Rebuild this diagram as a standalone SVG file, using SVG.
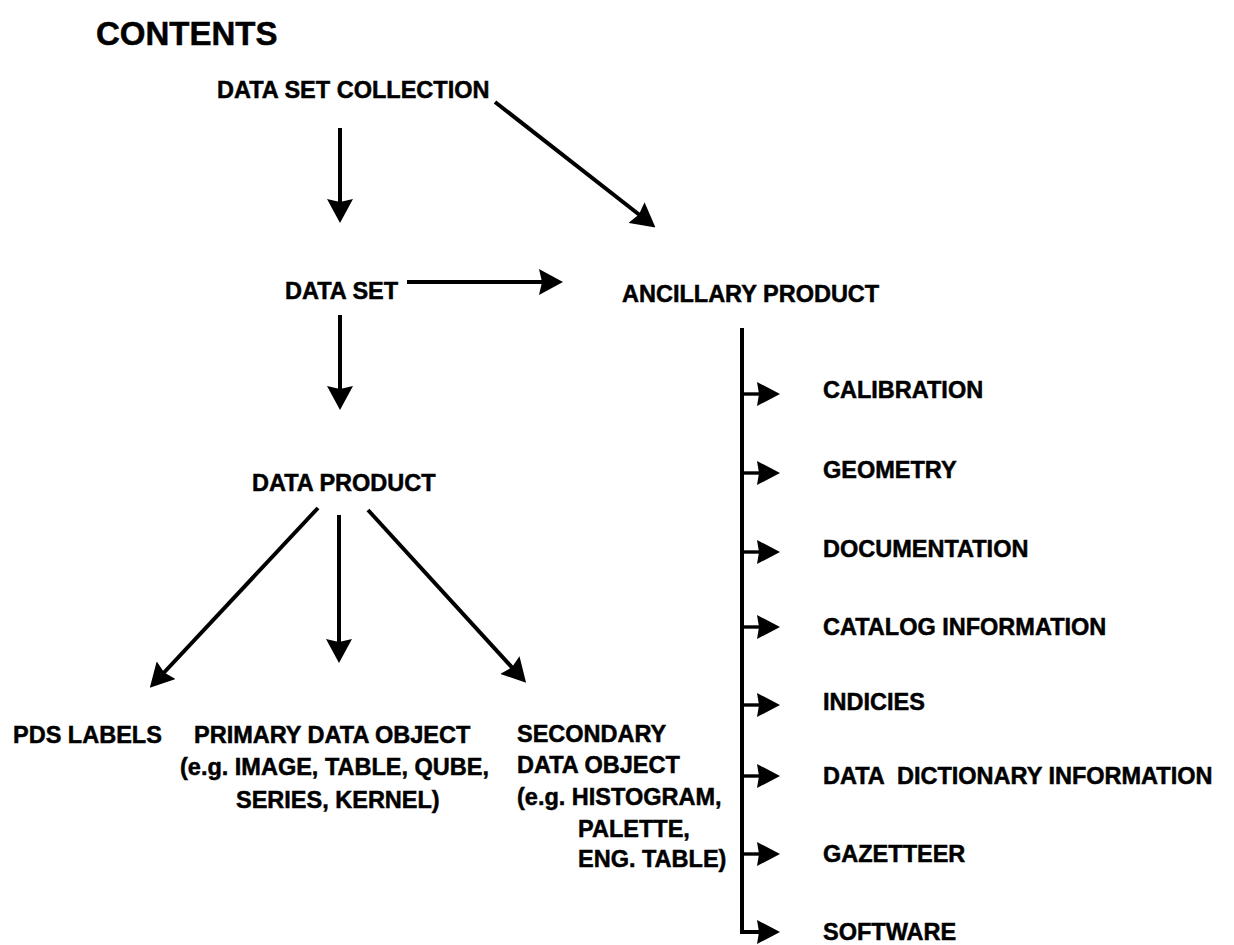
<svg xmlns="http://www.w3.org/2000/svg" width="1234" height="945" viewBox="0 0 1234 945">
<style>
text{font-family:"Liberation Sans",Arial,sans-serif;font-weight:bold;font-size:23.5px;fill:#000;stroke:#000;stroke-width:0.5px}
.title{font-size:33px}
.c line,.c path{stroke:#000;fill:none}
.thick{stroke-width:4}
.thin{stroke-width:3.4}
</style>
<defs>
<marker id="ah" viewBox="0 0 24 26" refX="12" refY="13" markerWidth="24" markerHeight="26" markerUnits="userSpaceOnUse" orient="auto">
<path d="M0,0 L24,13 L0,26 L3,13 z" fill="#000"/>
</marker>
<marker id="ahs" viewBox="0 0 23 24" refX="12" refY="12" markerWidth="23" markerHeight="24" markerUnits="userSpaceOnUse" orient="auto">
<path d="M0,0 L23,12 L0,24 L2,12 z" fill="#000"/>
</marker>
</defs>
<rect width="1234" height="945" fill="#fff"/>
<text class="title" x="96" y="45">CONTENTS</text>
<g id="n-dsc"><text x="217" y="98">DATA SET COLLECTION</text></g>
<g id="n-ds"><text x="285" y="299">DATA SET</text></g>
<g id="n-ap"><text x="622" y="302">ANCILLARY PRODUCT</text></g>
<g id="n-dp"><text x="252" y="491">DATA PRODUCT</text></g>
<g id="n-pds"><text x="13" y="743">PDS LABELS</text></g>
<g id="n-pri">
<text x="194" y="743">PRIMARY DATA OBJECT</text>
<text x="180" y="775">(e.g. IMAGE, TABLE, QUBE,</text>
<text x="236" y="808">SERIES, KERNEL)</text>
</g>
<g id="n-sec">
<text x="517" y="742">SECONDARY</text>
<text x="517" y="773">DATA OBJECT</text>
<text x="517" y="805">(e.g. HISTOGRAM,</text>
<text x="578" y="837">PALETTE,</text>
<text x="578" y="867">ENG. TABLE)</text>
</g>
<g id="n-cal"><text x="823" y="398">CALIBRATION</text></g>
<g id="n-geo"><text x="823" y="478">GEOMETRY</text></g>
<g id="n-doc"><text x="823" y="557">DOCUMENTATION</text></g>
<g id="n-cat"><text x="823" y="635">CATALOG INFORMATION</text></g>
<g id="n-ind"><text x="823" y="710">INDICIES</text></g>
<g id="n-ddi"><text x="823" y="784" xml:space="preserve">DATA  DICTIONARY INFORMATION</text></g>
<g id="n-gaz"><text x="823" y="862">GAZETTEER</text></g>
<g id="n-sw"><text x="823" y="940">SOFTWARE</text></g>
<g id="connectors" class="c">
<line class="thick" x1="340" y1="128" x2="340" y2="211" marker-end="url(#ah)"/>
<line class="thick" x1="495" y1="102" x2="646" y2="220" marker-end="url(#ah)"/>
<line class="thick" x1="407" y1="282" x2="551" y2="282" marker-end="url(#ah)"/>
<line class="thick" x1="340" y1="315" x2="340" y2="398" marker-end="url(#ah)"/>
<line class="thick" x1="318" y1="508" x2="158" y2="679" marker-end="url(#ah)"/>
<line class="thick" x1="339" y1="515" x2="339" y2="651" marker-end="url(#ah)"/>
<line class="thick" x1="368" y1="510" x2="518" y2="674" marker-end="url(#ah)"/>
<path class="thick" d="M742,328 L742,932 L769,932" marker-end="url(#ahs)"/>
<line class="thin" x1="742" y1="394" x2="769" y2="394" marker-end="url(#ahs)"/>
<line class="thin" x1="742" y1="473" x2="769" y2="473" marker-end="url(#ahs)"/>
<line class="thin" x1="742" y1="552" x2="769" y2="552" marker-end="url(#ahs)"/>
<line class="thin" x1="742" y1="627" x2="769" y2="627" marker-end="url(#ahs)"/>
<line class="thin" x1="742" y1="705" x2="769" y2="705" marker-end="url(#ahs)"/>
<line class="thin" x1="742" y1="776" x2="769" y2="776" marker-end="url(#ahs)"/>
<line class="thin" x1="742" y1="854" x2="769" y2="854" marker-end="url(#ahs)"/>
</g>
</svg>
